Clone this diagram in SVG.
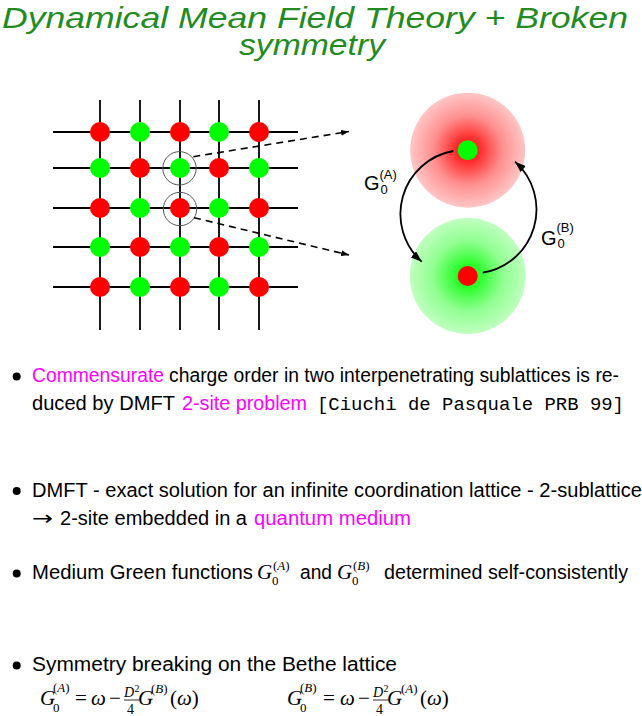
<svg xmlns="http://www.w3.org/2000/svg" width="642" height="716" viewBox="0 0 642 716">
<style>
.title{font-family:"Liberation Sans",Arial,sans-serif;font-style:italic;font-size:30px;fill:#228B22}
.body{font-family:"Liberation Sans",Arial,sans-serif;font-size:20px;fill:#000}
.mag{fill:#ff00ff}
.mono{font-family:"Liberation Mono","Courier New",monospace;font-size:19px;fill:#000}
.mi{font-family:"Liberation Serif","Times New Roman",serif;font-style:italic;font-size:21px;fill:#000}
.mn{font-family:"Liberation Serif","Times New Roman",serif;font-size:21px;fill:#000}
.sm{font-size:13px}
.fr{font-size:14px}
.xs{font-size:10px}
.arrowch{font-family:"DejaVu Sans",sans-serif;font-size:20px;fill:#000}
.lab{font-family:"Liberation Sans",Arial,sans-serif;fill:#000}
.grid{stroke:#000;stroke-width:1.8;fill:none}
.r{fill:#ff0000}
.g{fill:#00ff00}
.ring{fill:none;stroke:#555;stroke-width:1}
.dash{stroke:#000;stroke-width:1.6;stroke-dasharray:7 5;fill:none}
.arc{stroke:#000;stroke-width:1.8;fill:none}
</style>
<defs>
<radialGradient id="gr" cx="0.5" cy="0.5" r="0.5">
<stop offset="0" stop-color="#ff0000"/>
<stop offset="0.2" stop-color="#ff2a2a"/>
<stop offset="0.6" stop-color="#ff8f8f"/>
<stop offset="1" stop-color="#ffc6c6"/>
</radialGradient>
<radialGradient id="gg" cx="0.5" cy="0.5" r="0.5">
<stop offset="0" stop-color="#00ff00"/>
<stop offset="0.2" stop-color="#2aff2a"/>
<stop offset="0.6" stop-color="#8fff8f"/>
<stop offset="1" stop-color="#c0ffc0"/>
</radialGradient>
<marker id="ah" viewBox="0 0 11 8" refX="11" refY="4" markerWidth="11" markerHeight="8" markerUnits="userSpaceOnUse" orient="auto">
<path d="M0,0 L11,4 L0,8 z" fill="#000"/>
</marker>
<marker id="ahs" viewBox="0 0 8 6" refX="8" refY="3" markerWidth="8" markerHeight="6" markerUnits="userSpaceOnUse" orient="auto">
<path d="M0,0 L8,3 L0,6 z" fill="#000"/>
</marker>
</defs>
<rect width="642" height="716" fill="#fff"/>

<g id="title">
<text class="title" x="2" y="27.5" textLength="626" lengthAdjust="spacingAndGlyphs">Dynamical Mean Field Theory + Broken</text>
<text class="title" x="239" y="55" textLength="146" lengthAdjust="spacingAndGlyphs">symmetry</text>
</g>

<g id="lattice">
<g class="grid">
<line x1="53" y1="132" x2="298" y2="132"/>
<line x1="53" y1="168" x2="298" y2="168"/>
<line x1="53" y1="208" x2="298" y2="208"/>
<line x1="53" y1="247" x2="298" y2="247"/>
<line x1="53" y1="287" x2="298" y2="287"/>
<line x1="100" y1="100" x2="100" y2="330"/>
<line x1="140" y1="100" x2="140" y2="330"/>
<line x1="180" y1="100" x2="180" y2="330"/>
<line x1="219" y1="100" x2="219" y2="330"/>
<line x1="259" y1="100" x2="259" y2="330"/>
</g>
<circle class="r" cx="100" cy="132" r="10"/><circle class="g" cx="140" cy="132" r="10"/><circle class="r" cx="180" cy="132" r="10"/><circle class="g" cx="219" cy="132" r="10"/><circle class="r" cx="259" cy="132" r="10"/>
<circle class="g" cx="100" cy="168" r="10"/><circle class="r" cx="140" cy="168" r="10"/><circle class="g" cx="180" cy="168" r="10"/><circle class="r" cx="219" cy="168" r="10"/><circle class="g" cx="259" cy="168" r="10"/>
<circle class="r" cx="100" cy="208" r="10"/><circle class="g" cx="140" cy="208" r="10"/><circle class="r" cx="180" cy="208" r="10"/><circle class="g" cx="219" cy="208" r="10"/><circle class="r" cx="259" cy="208" r="10"/>
<circle class="g" cx="100" cy="247" r="10"/><circle class="r" cx="140" cy="247" r="10"/><circle class="g" cx="180" cy="247" r="10"/><circle class="r" cx="219" cy="247" r="10"/><circle class="g" cx="259" cy="247" r="10"/>
<circle class="r" cx="100" cy="287" r="10"/><circle class="g" cx="140" cy="287" r="10"/><circle class="r" cx="180" cy="287" r="10"/><circle class="g" cx="219" cy="287" r="10"/><circle class="r" cx="259" cy="287" r="10"/>
<circle class="ring" cx="179.5" cy="168.3" r="16.7"/>
<circle class="ring" cx="180" cy="209" r="16.7"/>
</g>

<g id="site-A">
<circle cx="467.7" cy="150.2" r="57.5" fill="url(#gr)"/>
<circle class="g" cx="467.7" cy="150.2" r="10"/>
</g>
<g id="site-B">
<circle cx="467.7" cy="276" r="58" fill="url(#gg)"/>
<circle class="r" cx="467.7" cy="276" r="10"/>
</g>

<g id="connectors">
<path class="dash" d="M193.3,156.7 L349,131.5" marker-end="url(#ahs)"/>
<path class="dash" d="M194,217.7 L349,255" marker-end="url(#ahs)"/>
<path class="arc" d="M453.3,151 A64,64 0 0 0 421.7,261.7" marker-end="url(#ah)"/>
<path class="arc" d="M482.7,272.7 A64,64 0 0 0 515,161.7" marker-end="url(#ah)"/>
</g>

<g id="labels">
<text class="lab" x="364" y="190" font-size="20">G</text>
<text class="lab" x="380.5" y="193.5" font-size="13">0</text>
<text class="lab" x="379.5" y="178.5" font-size="13">(A)</text>
<text class="lab" x="541" y="244.5" font-size="20">G</text>
<text class="lab" x="557.5" y="248" font-size="13">0</text>
<text class="lab" x="556.5" y="232" font-size="13">(B)</text>
</g>

<g id="bullets">
<circle cx="16.7" cy="376.5" r="4"/>
<circle cx="16.7" cy="491" r="4"/>
<circle cx="16.7" cy="573.5" r="4"/>
<circle cx="16.7" cy="665.5" r="4"/>

<text class="body mag" x="32" y="382" textLength="132" lengthAdjust="spacingAndGlyphs">Commensurate</text>
<text class="body" x="169" y="382" textLength="450" lengthAdjust="spacingAndGlyphs">charge order in two interpenetrating sublattices is re-</text>
<text class="body" x="32" y="410" textLength="143" lengthAdjust="spacingAndGlyphs">duced by DMFT</text>
<text class="body mag" x="182" y="410" textLength="125" lengthAdjust="spacingAndGlyphs">2-site problem</text>
<text class="mono" x="317" y="410" textLength="307" lengthAdjust="spacingAndGlyphs">[Ciuchi de Pasquale PRB 99]</text>

<text class="body" x="32" y="497" textLength="610" lengthAdjust="spacingAndGlyphs">DMFT - exact solution for an infinite coordination lattice - 2-sublattice</text>
<text class="arrowch" x="32" y="525" textLength="21" lengthAdjust="spacingAndGlyphs">→</text>
<text class="body" x="60" y="525" textLength="187" lengthAdjust="spacingAndGlyphs">2-site embedded in a</text>
<text class="body mag" x="254" y="525" textLength="157" lengthAdjust="spacingAndGlyphs">quantum medium</text>

<text class="body" x="32" y="579" textLength="221" lengthAdjust="spacingAndGlyphs">Medium Green functions</text>
<text class="mi" x="257" y="579">G</text>
<text class="mn sm" x="272" y="585">0</text>
<text class="mn sm" x="273" y="570">(<tspan font-style="italic">A</tspan>)</text>
<text class="body" x="300" y="579" textLength="32" lengthAdjust="spacingAndGlyphs">and</text>
<text class="mi" x="337" y="579">G</text>
<text class="mn sm" x="352" y="585">0</text>
<text class="mn sm" x="353" y="570">(<tspan font-style="italic">B</tspan>)</text>
<text class="body" x="384" y="579" textLength="244" lengthAdjust="spacingAndGlyphs">determined self-consistently</text>

<text class="body" x="32" y="671" textLength="365" lengthAdjust="spacingAndGlyphs">Symmetry breaking on the Bethe lattice</text>
</g>

<g id="formulas">
<text class="mi" x="40" y="705">G</text>
<text class="mn sm" x="53" y="712">0</text>
<text class="mn sm" x="53" y="692">(<tspan font-style="italic">A</tspan>)</text>
<text class="mn" x="75" y="705">=</text>
<text class="mi" x="91" y="705">ω</text>
<text class="mn" x="109" y="705">−</text>
<text class="mi fr" x="124" y="697">D</text>
<text class="mn xs" x="134.5" y="692">2</text>
<line x1="124" y1="700" x2="139" y2="700" stroke="#000" stroke-width="0.8"/>
<text class="mn fr" x="127" y="714">4</text>
<text class="mi" x="138" y="705">G</text>
<text class="mn sm" x="151" y="693">(<tspan font-style="italic">B</tspan>)</text>
<text class="mn" x="170" y="705">(<tspan font-style="italic">ω</tspan>)</text>

<text class="mi" x="287" y="705">G</text>
<text class="mn sm" x="300" y="712">0</text>
<text class="mn sm" x="300" y="692">(<tspan font-style="italic">B</tspan>)</text>
<text class="mn" x="323" y="705">=</text>
<text class="mi" x="340" y="705">ω</text>
<text class="mn" x="358" y="705">−</text>
<text class="mi fr" x="373" y="697">D</text>
<text class="mn xs" x="383.5" y="692">2</text>
<line x1="373" y1="700" x2="388" y2="700" stroke="#000" stroke-width="0.8"/>
<text class="mn fr" x="376" y="714">4</text>
<text class="mi" x="387" y="705">G</text>
<text class="mn sm" x="401" y="693">(<tspan font-style="italic">A</tspan>)</text>
<text class="mn" x="420" y="705">(<tspan font-style="italic">ω</tspan>)</text>
</g>
</svg>
